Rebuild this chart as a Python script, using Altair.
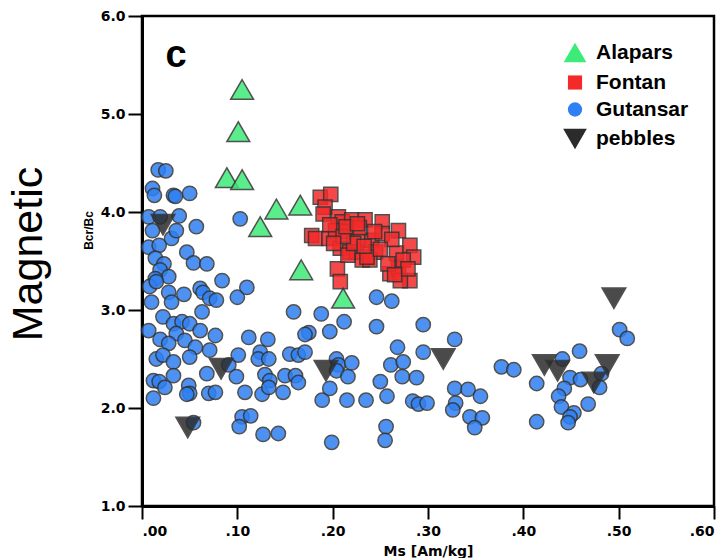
import altair as alt
import pandas as pd

# ---------------- data ----------------
groups = ["Alapars", "Fontan", "Gutansar", "pebbles"]

alapars_ms = [0.105, 0.101, 0.089, 0.105, 0.141, 0.166, 0.124, 0.167, 0.211]
alapars_bc = [5.25, 4.82, 4.35, 4.33, 4.03, 4.07, 3.85, 3.41, 3.12]

fontan_ms = [0.187, 0.198, 0.192, 0.190, 0.206, 0.210, 0.220, 0.234, 0.252, 0.269,
             0.178, 0.182, 0.196, 0.203, 0.215, 0.227, 0.241, 0.252, 0.208, 0.218,
             0.225, 0.231, 0.245, 0.239, 0.267, 0.281, 0.285, 0.260, 0.269, 0.281,
             0.271, 0.205, 0.208, 0.216, 0.236, 0.274, 0.222, 0.197, 0.211, 0.258,
             0.228, 0.244, 0.262, 0.201, 0.233, 0.250, 0.279, 0.265, 0.214, 0.226]
fontan_bc = [4.15, 4.18, 4.05, 3.98, 3.95, 3.90, 3.92, 3.92, 3.90, 3.81,
             3.76, 3.73, 3.73, 3.81, 3.80, 3.71, 3.71, 3.78, 3.63, 3.59,
             3.59, 3.51, 3.59, 3.51, 3.58, 3.66, 3.54, 3.37, 3.42, 3.30,
             3.30, 3.42, 3.29, 3.56, 3.54, 3.51, 3.68, 3.87, 3.75, 3.47,
             3.84, 3.80, 3.72, 3.68, 3.65, 3.62, 3.42, 3.36, 3.85, 3.88]

gut_ms = [0.017, 0.025, 0.011, 0.013, 0.033, 0.035, 0.050, 0.007, 0.019, 0.039,
          0.057, 0.011, 0.031, 0.036, 0.007, 0.018, 0.047, 0.054, 0.068, 0.014,
          0.023, 0.019, 0.028, 0.014, 0.084, 0.103,
          0.008, 0.015, 0.028, 0.044, 0.010, 0.031, 0.061, 0.064, 0.071, 0.078,
          0.100, 0.063, 0.007, 0.022, 0.033, 0.042, 0.050, 0.061, 0.036, 0.019,
          0.028, 0.045, 0.056, 0.077, 0.071, 0.015, 0.022, 0.033, 0.050, 0.033,
          0.068, 0.091, 0.101, 0.099, 0.012, 0.018, 0.024, 0.012, 0.049, 0.050,
          0.047, 0.070, 0.077, 0.054,
          0.110, 0.159, 0.188, 0.112, 0.132, 0.175, 0.171, 0.197, 0.124, 0.122,
          0.133, 0.155, 0.164, 0.171, 0.129, 0.134, 0.150, 0.161, 0.164, 0.108,
          0.126, 0.133, 0.148, 0.189, 0.105, 0.114, 0.102, 0.127, 0.143, 0.199,
          0.204, 0.206, 0.204, 0.197,
          0.246, 0.262, 0.212, 0.246, 0.295, 0.268, 0.295, 0.220, 0.261, 0.274,
          0.216, 0.273, 0.288, 0.250, 0.215, 0.235, 0.257, 0.284, 0.290, 0.299,
          0.256, 0.255,
          0.328, 0.377, 0.390, 0.414, 0.328, 0.342, 0.355, 0.329, 0.326, 0.344,
          0.357, 0.349, 0.414, 0.501, 0.509, 0.459, 0.441, 0.482, 0.449, 0.460,
          0.443, 0.480, 0.437, 0.468, 0.440, 0.453, 0.449, 0.447]
gut_bc = [4.43, 4.42, 4.24, 4.17, 4.17, 4.16, 4.19, 3.95, 3.95, 3.96,
          3.85, 3.81, 3.73, 3.81, 3.64, 3.66, 3.59, 3.48, 3.47, 3.53,
          3.47, 3.41, 3.34, 3.32, 3.30, 3.93,
          3.24, 3.29, 3.18, 3.16, 3.08, 3.08, 3.22, 3.18, 3.12, 3.10,
          3.13, 2.98, 2.79, 2.93, 2.86, 2.88, 2.86, 2.79, 2.76, 2.70,
          2.66, 2.69, 2.62, 2.74, 2.59, 2.50, 2.54, 2.47, 2.52, 2.33,
          2.35, 2.44, 2.54, 2.32, 2.28, 2.27, 2.21, 2.10, 2.23, 2.15,
          2.14, 2.15, 2.16, 1.85,
          3.23, 2.98, 2.96, 2.72, 2.70, 2.77, 2.75, 2.78, 2.57, 2.50,
          2.50, 2.55, 2.54, 2.57, 2.34, 2.28, 2.33, 2.33, 2.26, 2.16,
          2.14, 2.21, 2.16, 2.08, 1.91, 1.92, 1.81, 1.73, 1.74, 1.65,
          2.50, 2.44, 2.38, 2.20,
          3.13, 3.09, 2.88, 2.83, 2.85, 2.62, 2.57, 2.46, 2.44, 2.47,
          2.32, 2.32, 2.31, 2.27, 2.08, 2.08, 2.12, 2.07, 2.04, 2.05,
          1.81, 1.67,
          2.70, 2.42, 2.39, 2.25, 2.20, 2.19, 2.12, 2.05, 1.98, 1.91,
          1.90, 1.80, 1.86, 2.80, 2.71, 2.58, 2.50, 2.35, 2.31, 2.29,
          2.20, 2.21, 2.12, 2.04, 2.01, 1.95, 1.91, 1.85]

peb_ms = [0.022, 0.083, 0.048, 0.193, 0.316, 0.422, 0.436, 0.474, 0.488, 0.495]
peb_bc = [3.87, 2.40, 1.80, 2.38, 2.50, 2.44, 2.38, 2.26, 2.44, 3.12]

x_ticks = [0.0, 0.1, 0.2, 0.3, 0.4, 0.5, 0.6]
y_ticks = [1.0, 2.0, 3.0, 4.0, 5.0, 6.0]

colors = ["#3DEB78", "#F42A2A", "#2F80F2", "#2B2B2B"]
shapes = ["triangle-up", "square", "circle", "triangle-down"]
sizes = [520, 200, 205, 560]

# drawing order: Gutansar, Fontan, Alapars, pebbles
df = pd.concat([
    pd.DataFrame({"ms": gut_ms, "bc": gut_bc, "group": "Gutansar"}),
    pd.DataFrame({"ms": fontan_ms, "bc": fontan_bc, "group": "Fontan"}),
    pd.DataFrame({"ms": alapars_ms, "bc": alapars_bc, "group": "Alapars"}),
    pd.DataFrame({"ms": peb_ms, "bc": peb_bc, "group": "pebbles"}),
], ignore_index=True)

AX_FONT = "DejaVu Sans"
LEG_FONT = "Liberation Sans"

legend = alt.Legend(
    orient="none", legendX=420, legendY=24, title=None,
    labelFont=LEG_FONT, labelFontWeight="bold", labelFontSize=21,
    labelColor="black", labelOffset=8,
    symbolStrokeColor="#333333", symbolStrokeWidth=1.5, symbolOpacity=1,
    rowPadding=5, padding=0,
)

points = alt.Chart(df).mark_point(
    filled=True, opacity=0.85, stroke="#333333", strokeWidth=1.5
).encode(
    x=alt.X("ms:Q",
            scale=alt.Scale(domain=[0, 0.6], nice=False, zero=False),
            axis=alt.Axis(values=x_ticks,
                          labelExpr="substring(format(datum.value, '.2f'), 1)",
                          title="Ms [Am/kg]", titleY=49,
                          titleBaseline="alphabetic",
                          tickSize=13, labelPadding=5)),
    y=alt.Y("bc:Q",
            scale=alt.Scale(domain=[1, 6], nice=False, zero=False),
            axis=alt.Axis(values=y_ticks, format=".1f", title="Bcr/Bc",
                          titleX=-50, titleY=214, titleAngle=-90,
                          titleAlign="center", titleBaseline="alphabetic",
                          titleFont=LEG_FONT, titleFontSize=12,
                          tickSize=14, labelPadding=3)),
    color=alt.Color("group:O", scale=alt.Scale(type="ordinal", domain=groups, range=colors), legend=legend),
    shape=alt.Shape("group:O", scale=alt.Scale(type="ordinal", domain=groups, range=shapes), legend=legend),
    size=alt.Size("group:O", scale=alt.Scale(type="ordinal", domain=groups, range=sizes), legend=legend),
)

panel_label = alt.Chart(pd.DataFrame({"t": ["c"]})).mark_text(
    font=LEG_FONT, fontWeight="bold", fontSize=38, color="black",
    align="center", baseline="alphabetic"
).encode(x=alt.value(34), y=alt.value(51), text="t:N")

side_label = alt.Chart(pd.DataFrame({"t": ["Magnetic"]})).mark_text(
    font=LEG_FONT, fontSize=43, color="black", angle=270,
    align="center", baseline="alphabetic"
).encode(x=alt.value(-100), y=alt.value(238), text="t:N")

chart = alt.layer(points, panel_label, side_label).properties(
    width=572, height=490,
    autosize=alt.AutoSizeParams(type="none"),
    padding={"left": 142, "top": 16, "right": 13, "bottom": 52},
    background="white",
).configure_view(
    stroke="black", strokeWidth=2.5
).configure_axis(
    grid=False, domainColor="black", domainWidth=3,
    tickColor="black", tickWidth=2,
    labelFont=AX_FONT, labelFontWeight="bold", labelFontSize=14, labelColor="black",
    titleFont=AX_FONT, titleFontWeight="bold", titleFontSize=14, titleColor="black",
)

chart.save("out.html", embed_options={"renderer": "svg", "actions": False})
